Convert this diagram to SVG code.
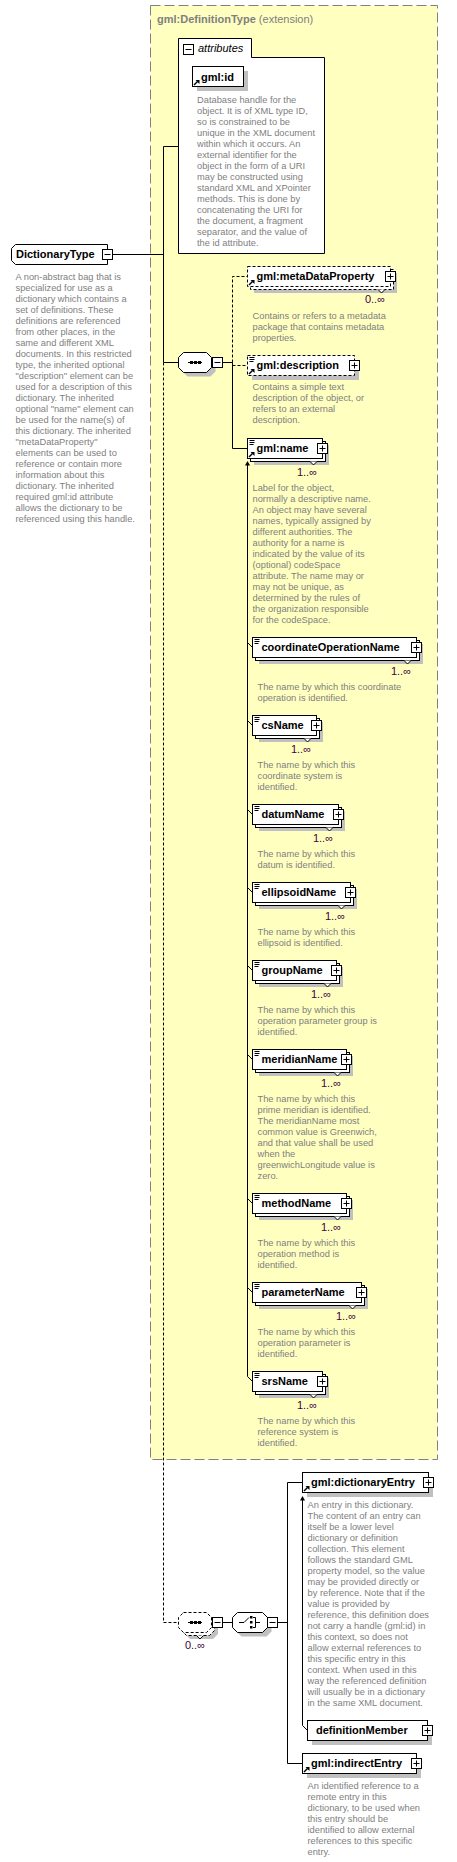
<svg xmlns="http://www.w3.org/2000/svg" width="457" height="1862" viewBox="0 0 457 1862" xml:space="preserve">
<style>
.box{fill:#fff;stroke:#000}
.dbox{fill:#fff;stroke:#000;stroke-dasharray:3,2}
.sh{fill:#c0c0c0}
.ln{stroke:#000;fill:none}
.dl{stroke:#000;fill:none;stroke-dasharray:3,2}
.lbl{font-family:'Liberation Sans',Arial,sans-serif;font-weight:bold;font-size:11px;fill:#000}
.doc{font-family:'Liberation Sans',Arial,sans-serif;font-size:9.3px;fill:#808080}
.mul{font-family:'Liberation Sans',Arial,sans-serif;font-size:11px;fill:#400040;text-anchor:end}
.ttl{font-family:'Liberation Sans',Arial,sans-serif;font-size:11px;fill:#808080}
</style>
<defs>
<g id="plus"><rect x="0.5" y="0.5" width="10" height="10" fill="#fff" stroke="#000"/><path d="M2.5,5.5H8.5M5.5,2.5V8.5" stroke="#000"/></g>
<g id="minus"><rect x="0.5" y="0.5" width="10" height="10" fill="#fff" stroke="#000"/><path d="M2.5,5.5H8.5" stroke="#000"/></g>
<g id="ref"><path d="M1,6.5L4.5,3" stroke="#000" stroke-width="1.4"/><path d="M2.5,1.5H6.5V5.5Z" fill="#000"/></g>
<g id="docic"><path d="M0,0.5H5M0,2.5H5M0,4.5H4" stroke="#000"/></g>
<path id="notch" d="M-3.5,0L0,3.5L3.5,0" fill="#fff" stroke="#000"/>
<path id="oct" d="M5,0H28L33,5V15L28,20H5L0,15V5Z"/>
<path id="oct2" d="M5,0H30L35,5V15L30,20H5L0,15V5Z"/>
</defs>

<g id="extension">
<rect x="150.5" y="5.5" width="287" height="1454" fill="#ffffc0" stroke="#808080" stroke-dasharray="10,4"/>
<text class="ttl" x="157" y="23"><tspan font-weight="bold">gml:DefinitionType</tspan> (extension)</text>
</g>

<g id="connectors">
<path class="ln" d="M112.5,254.5H163.5M163.5,146.5V362.5M163.5,146.5H178.5M163.5,362.5H178.5"/>
<path class="dl" d="M163.5,362.5V1622.5H178.5" stroke-dasharray="2,2"/>
<path class="ln" d="M222.5,362.5H232.5V448.5H247.5"/>
<path class="dl" d="M232.5,362.5V276.5H247.5M232.5,365.5H247.5"/>
<path class="ln" d="M247.5,465V1376.5L252.5,1381.5"/>
<path d="M245,465.5L247.5,461L250,465.5Z" fill="#000"/>
<path class="ln" d="M247.5,642.5L252.5,647.5M247.5,720.5L252.5,725.5M247.5,809.5L252.5,814.5M247.5,887.5L252.5,892.5M247.5,965.5L252.5,970.5M247.5,1054.5L252.5,1059.5M247.5,1198.5L252.5,1203.5M247.5,1287.5L252.5,1292.5"/>
<path class="ln" d="M222.5,1622.5H232.5M277.5,1622.5H287.5M287.5,1482.5V1763.5M287.5,1482.5H302.5M287.5,1763.5H302.5"/>
<path class="ln" d="M302.5,1500V1725.5L307.5,1730.5"/>
<path d="M300,1500.5L302.5,1496L305,1500.5Z" fill="#000"/>
</g>

<g id="DictionaryType">
<path class="box" d="M15.5,244.5H107.5V264.5H15.5L11.5,260.5V248.5Z"/>
<text class="lbl" x="16" y="258">DictionaryType</text>
<use href="#minus" x="102" y="249"/>
<text class="doc" x="15.5" y="279.5">A non-abstract bag that is</text>
<text class="doc" x="15.5" y="290.5">specialized for use as a</text>
<text class="doc" x="15.5" y="301.5">dictionary which contains a</text>
<text class="doc" x="15.5" y="312.5">set of definitions. These</text>
<text class="doc" x="15.5" y="323.5">definitions are referenced</text>
<text class="doc" x="15.5" y="334.5">from other places, in the</text>
<text class="doc" x="15.5" y="345.5">same and different XML</text>
<text class="doc" x="15.5" y="356.5">documents. In this restricted</text>
<text class="doc" x="15.5" y="367.5">type, the inherited optional</text>
<text class="doc" x="15.5" y="378.5">"description" element can be</text>
<text class="doc" x="15.5" y="389.5">used for a description of this</text>
<text class="doc" x="15.5" y="400.5">dictionary. The inherited</text>
<text class="doc" x="15.5" y="411.5">optional "name" element can</text>
<text class="doc" x="15.5" y="422.5">be used for the name(s) of</text>
<text class="doc" x="15.5" y="433.5">this dictionary. The inherited</text>
<text class="doc" x="15.5" y="444.5">"metaDataProperty"</text>
<text class="doc" x="15.5" y="455.5">elements can be used to</text>
<text class="doc" x="15.5" y="466.5">reference or contain more</text>
<text class="doc" x="15.5" y="477.5">information about this</text>
<text class="doc" x="15.5" y="488.5">dictionary. The inherited</text>
<text class="doc" x="15.5" y="499.5">required gml:id attribute</text>
<text class="doc" x="15.5" y="510.5">allows the dictionary to be</text>
<text class="doc" x="15.5" y="521.5">referenced using this handle.</text>
</g>

<g id="attributes">
<path class="box" d="M178.5,253.5V38.5H251.5V57.5H324.5V253.5Z"/>
<use href="#minus" x="183" y="44"/>
<text x="198" y="52" font-family="'Liberation Sans',Arial,sans-serif" font-size="11" font-style="italic">attributes</text>
</g>

<g id="gml_id">
<rect class="sh" x="197" y="71" width="51" height="20"/>
<rect class="box" x="192.5" y="66.5" width="51" height="20"/>
<use href="#ref" x="193" y="78.5"/>
<text class="lbl" x="201" y="80.5">gml:id</text>
<text class="doc" x="197" y="102.5">Database handle for the</text>
<text class="doc" x="197" y="113.5">object.  It is of XML type ID,</text>
<text class="doc" x="197" y="124.5">so is constrained to be</text>
<text class="doc" x="197" y="135.5">unique in the XML document</text>
<text class="doc" x="197" y="146.5">within which it occurs.  An</text>
<text class="doc" x="197" y="157.5">external identifier for the</text>
<text class="doc" x="197" y="168.5">object in the form of a URI</text>
<text class="doc" x="197" y="179.5">may be constructed using</text>
<text class="doc" x="197" y="190.5">standard XML and XPointer</text>
<text class="doc" x="197" y="201.5">methods.  This is done by</text>
<text class="doc" x="197" y="212.5">concatenating the URI for</text>
<text class="doc" x="197" y="223.5">the document, a fragment</text>
<text class="doc" x="197" y="234.5">separator, and the value of</text>
<text class="doc" x="197" y="245.5">the id attribute.</text>
</g>

<g id="sequence">
<use href="#oct" x="182.5" y="356.5" class="sh"/>
<use href="#oct" x="178.5" y="352.5" fill="#fff" stroke="#000"/>
<path class="ln" d="M188,362.5H202"/>
<rect x="190" y="361" width="3" height="3"/><rect x="194" y="361" width="3" height="3"/><rect x="198" y="361" width="3" height="3"/>
<use href="#minus" x="212" y="357"/>
</g>

<g id="gml_metaDataProperty">
<rect class="sh" x="254" y="273" width="143" height="20"/>
<rect class="dbox" x="250.5" y="269.5" width="143" height="20"/>
<rect class="dbox" x="247.5" y="266.5" width="143" height="20"/>
<use href="#notch" x="381.5" y="289.5"/>
<use href="#ref" x="248" y="278.5"/>
<text class="lbl" x="256.5" y="280">gml:metaDataProperty</text>
<use href="#plus" x="385" y="271"/>
<text class="mul" x="385" y="303">0..∞</text>
<text class="doc" x="252.5" y="318.5">Contains or refers to a metadata</text>
<text class="doc" x="252.5" y="329.5">package that contains metadata</text>
<text class="doc" x="252.5" y="340.5">properties.</text>
</g>

<g id="gml_description">
<rect class="sh" x="252" y="360" width="107" height="20"/>
<rect class="dbox" x="247.5" y="355.5" width="107" height="20"/>
<use href="#docic" x="249.5" y="357"/>
<use href="#ref" x="248" y="367.5"/>
<text class="lbl" x="256.5" y="369">gml:description</text>
<use href="#plus" x="349" y="360"/>
<text class="doc" x="252.5" y="390">Contains a simple text</text>
<text class="doc" x="252.5" y="401">description of the object, or</text>
<text class="doc" x="252.5" y="412">refers to an external</text>
<text class="doc" x="252.5" y="423">description.</text>
</g>

<g id="gml_name">
<rect class="sh" x="254" y="445" width="75" height="20"/>
<rect class="box" x="250.5" y="441.5" width="75" height="20"/>
<rect class="box" x="247.5" y="438.5" width="75" height="20"/>
<use href="#notch" x="313.5" y="461.5"/>
<use href="#docic" x="249.5" y="440"/>
<use href="#ref" x="248" y="450.5"/>
<text class="lbl" x="256.5" y="452">gml:name</text>
<use href="#plus" x="317" y="443"/>
<text class="mul" x="317" y="475.5">1..∞</text>
<text class="doc" x="252.5" y="491">Label for the object,</text>
<text class="doc" x="252.5" y="502">normally a descriptive name.</text>
<text class="doc" x="252.5" y="513">An object may have several</text>
<text class="doc" x="252.5" y="524">names, typically assigned by</text>
<text class="doc" x="252.5" y="535">different authorities.  The</text>
<text class="doc" x="252.5" y="546">authority for a name is</text>
<text class="doc" x="252.5" y="557">indicated by the value of its</text>
<text class="doc" x="252.5" y="568">(optional) codeSpace</text>
<text class="doc" x="252.5" y="579">attribute.  The name may or</text>
<text class="doc" x="252.5" y="590">may not be unique, as</text>
<text class="doc" x="252.5" y="601">determined by the rules of</text>
<text class="doc" x="252.5" y="612">the organization responsible</text>
<text class="doc" x="252.5" y="623">for the codeSpace.</text>
</g>

<g id="coordinateOperationName">
<rect class="sh" x="259" y="644" width="164" height="20"/>
<rect class="box" x="255.5" y="640.5" width="164" height="20"/>
<rect class="box" x="252.5" y="637.5" width="164" height="20"/>
<use href="#notch" x="407.5" y="660.5"/>
<use href="#docic" x="254.5" y="639"/>
<text class="lbl" x="261.5" y="651">coordinateOperationName</text>
<use href="#plus" x="411" y="642"/>
<text class="mul" x="411" y="674.5">1..∞</text>
<text class="doc" x="257.5" y="690">The name by which this coordinate</text>
<text class="doc" x="257.5" y="701">operation is identified.</text>
</g>

<g id="csName">
<rect class="sh" x="259" y="722" width="64" height="20"/>
<rect class="box" x="255.5" y="718.5" width="64" height="20"/>
<rect class="box" x="252.5" y="715.5" width="64" height="20"/>
<use href="#notch" x="307.5" y="738.5"/>
<use href="#docic" x="254.5" y="717"/>
<text class="lbl" x="261.5" y="729">csName</text>
<use href="#plus" x="311" y="720"/>
<text class="mul" x="311" y="752.5">1..∞</text>
<text class="doc" x="257.5" y="768">The name by which this</text>
<text class="doc" x="257.5" y="779">coordinate system is</text>
<text class="doc" x="257.5" y="790">identified.</text>
</g>

<g id="datumName">
<rect class="sh" x="259" y="811" width="86" height="20"/>
<rect class="box" x="255.5" y="807.5" width="86" height="20"/>
<rect class="box" x="252.5" y="804.5" width="86" height="20"/>
<use href="#notch" x="329.5" y="827.5"/>
<use href="#docic" x="254.5" y="806"/>
<text class="lbl" x="261.5" y="818">datumName</text>
<use href="#plus" x="333" y="809"/>
<text class="mul" x="333" y="841.5">1..∞</text>
<text class="doc" x="257.5" y="857">The name by which this</text>
<text class="doc" x="257.5" y="868">datum is identified.</text>
</g>

<g id="ellipsoidName">
<rect class="sh" x="259" y="889" width="98" height="20"/>
<rect class="box" x="255.5" y="885.5" width="98" height="20"/>
<rect class="box" x="252.5" y="882.5" width="98" height="20"/>
<use href="#notch" x="341.5" y="905.5"/>
<use href="#docic" x="254.5" y="884"/>
<text class="lbl" x="261.5" y="896">ellipsoidName</text>
<use href="#plus" x="345" y="887"/>
<text class="mul" x="345" y="919.5">1..∞</text>
<text class="doc" x="257.5" y="935">The name by which this</text>
<text class="doc" x="257.5" y="946">ellipsoid is identified.</text>
</g>

<g id="groupName">
<rect class="sh" x="259" y="967" width="84" height="20"/>
<rect class="box" x="255.5" y="963.5" width="84" height="20"/>
<rect class="box" x="252.5" y="960.5" width="84" height="20"/>
<use href="#notch" x="327.5" y="983.5"/>
<use href="#docic" x="254.5" y="962"/>
<text class="lbl" x="261.5" y="974">groupName</text>
<use href="#plus" x="331" y="965"/>
<text class="mul" x="331" y="997.5">1..∞</text>
<text class="doc" x="257.5" y="1013">The name by which this</text>
<text class="doc" x="257.5" y="1024">operation parameter group is</text>
<text class="doc" x="257.5" y="1035">identified.</text>
</g>

<g id="meridianName">
<rect class="sh" x="259" y="1056" width="94" height="20"/>
<rect class="box" x="255.5" y="1052.5" width="94" height="20"/>
<rect class="box" x="252.5" y="1049.5" width="94" height="20"/>
<use href="#notch" x="337.5" y="1072.5"/>
<use href="#docic" x="254.5" y="1051"/>
<text class="lbl" x="261.5" y="1063">meridianName</text>
<use href="#plus" x="341" y="1054"/>
<text class="mul" x="341" y="1086.5">1..∞</text>
<text class="doc" x="257.5" y="1102">The name by which this</text>
<text class="doc" x="257.5" y="1113">prime meridian is identified.</text>
<text class="doc" x="257.5" y="1124">The meridianName most</text>
<text class="doc" x="257.5" y="1135">common value is Greenwich,</text>
<text class="doc" x="257.5" y="1146">and that value shall be used</text>
<text class="doc" x="257.5" y="1157">when the</text>
<text class="doc" x="257.5" y="1168">greenwichLongitude value is</text>
<text class="doc" x="257.5" y="1179">zero.</text>
</g>

<g id="methodName">
<rect class="sh" x="259" y="1200" width="94" height="20"/>
<rect class="box" x="255.5" y="1196.5" width="94" height="20"/>
<rect class="box" x="252.5" y="1193.5" width="94" height="20"/>
<use href="#notch" x="337.5" y="1216.5"/>
<use href="#docic" x="254.5" y="1195"/>
<text class="lbl" x="261.5" y="1207">methodName</text>
<use href="#plus" x="341" y="1198"/>
<text class="mul" x="341" y="1230.5">1..∞</text>
<text class="doc" x="257.5" y="1246">The name by which this</text>
<text class="doc" x="257.5" y="1257">operation method is</text>
<text class="doc" x="257.5" y="1268">identified.</text>
</g>

<g id="parameterName">
<rect class="sh" x="259" y="1289" width="109" height="20"/>
<rect class="box" x="255.5" y="1285.5" width="109" height="20"/>
<rect class="box" x="252.5" y="1282.5" width="109" height="20"/>
<use href="#notch" x="352.5" y="1305.5"/>
<use href="#docic" x="254.5" y="1284"/>
<text class="lbl" x="261.5" y="1296">parameterName</text>
<use href="#plus" x="356" y="1287"/>
<text class="mul" x="356" y="1319.5">1..∞</text>
<text class="doc" x="257.5" y="1335">The name by which this</text>
<text class="doc" x="257.5" y="1346">operation parameter is</text>
<text class="doc" x="257.5" y="1357">identified.</text>
</g>

<g id="srsName">
<rect class="sh" x="259" y="1378" width="70" height="20"/>
<rect class="box" x="255.5" y="1374.5" width="70" height="20"/>
<rect class="box" x="252.5" y="1371.5" width="70" height="20"/>
<use href="#notch" x="313.5" y="1394.5"/>
<use href="#docic" x="254.5" y="1373"/>
<text class="lbl" x="261.5" y="1385">srsName</text>
<use href="#plus" x="317" y="1376"/>
<text class="mul" x="317" y="1408.5">1..∞</text>
<text class="doc" x="257.5" y="1424">The name by which this</text>
<text class="doc" x="257.5" y="1435">reference system is</text>
<text class="doc" x="257.5" y="1446">identified.</text>
</g>

<g id="sequence2">
<use href="#oct" x="185" y="1619" class="sh"/>
<use href="#oct" x="181.5" y="1615.5" fill="#fff" stroke="#000" stroke-dasharray="3,2"/>
<use href="#oct" x="178.5" y="1612.5" fill="#fff" stroke="#000" stroke-dasharray="3,2"/>
<use href="#notch" x="200" y="1635.5"/>
<path class="ln" d="M188,1622.5H202"/>
<rect x="190" y="1621" width="3" height="3"/><rect x="194" y="1621" width="3" height="3"/><rect x="198" y="1621" width="3" height="3"/>
<use href="#minus" x="212" y="1617"/>
<text class="mul" x="205" y="1649">0..∞</text>
</g>

<g id="choice">
<use href="#oct2" x="236.5" y="1616.5" class="sh"/>
<use href="#oct2" x="232.5" y="1612.5" fill="#fff" stroke="#000"/>
<path class="ln" d="M239,1622.5H244L249,1617.5M255.5,1617.5V1627.5M253,1617.5H255.5M253,1627.5H255.5M255.5,1622.5H260"/>
<rect x="250" y="1616" width="2.5" height="2.5"/><rect x="250" y="1621" width="2.5" height="2.5"/><rect x="250" y="1626" width="2.5" height="2.5"/>
<use href="#minus" x="267" y="1617"/>
</g>

<g id="gml_dictionaryEntry">
<rect class="sh" x="307" y="1477" width="126" height="20"/>
<rect class="box" x="302.5" y="1472.5" width="126" height="20"/>
<use href="#ref" x="303" y="1484.5"/>
<text class="lbl" x="311" y="1486">gml:dictionaryEntry</text>
<use href="#plus" x="423" y="1477"/>
<text class="doc" x="307.5" y="1508">An entry in this dictionary.</text>
<text class="doc" x="307.5" y="1519">The content of an entry can</text>
<text class="doc" x="307.5" y="1530">itself be a lower level</text>
<text class="doc" x="307.5" y="1541">dictionary or definition</text>
<text class="doc" x="307.5" y="1552">collection. This element</text>
<text class="doc" x="307.5" y="1563">follows the standard GML</text>
<text class="doc" x="307.5" y="1574">property model, so the value</text>
<text class="doc" x="307.5" y="1585">may be provided directly or</text>
<text class="doc" x="307.5" y="1596">by reference. Note that if the</text>
<text class="doc" x="307.5" y="1607">value is provided by</text>
<text class="doc" x="307.5" y="1618">reference, this definition does</text>
<text class="doc" x="307.5" y="1629">not carry a handle (gml:id) in</text>
<text class="doc" x="307.5" y="1640">this context, so does not</text>
<text class="doc" x="307.5" y="1651">allow external references to</text>
<text class="doc" x="307.5" y="1662">this specific entry in this</text>
<text class="doc" x="307.5" y="1673">context. When used in this</text>
<text class="doc" x="307.5" y="1684">way the referenced definition</text>
<text class="doc" x="307.5" y="1695">will usually be in a dictionary</text>
<text class="doc" x="307.5" y="1706">in the same XML document.</text>
</g>

<g id="definitionMember">
<rect class="sh" x="312" y="1725" width="120" height="20"/>
<rect class="box" x="307.5" y="1720.5" width="120" height="20"/>
<text class="lbl" x="316" y="1734">definitionMember</text>
<use href="#plus" x="422" y="1725"/>
</g>

<g id="gml_indirectEntry">
<rect class="sh" x="307" y="1758" width="114" height="20"/>
<rect class="box" x="302.5" y="1753.5" width="114" height="20"/>
<use href="#ref" x="303" y="1765.5"/>
<text class="lbl" x="311" y="1767">gml:indirectEntry</text>
<use href="#plus" x="411" y="1758"/>
<text class="doc" x="307.5" y="1788.5">An identified reference to a</text>
<text class="doc" x="307.5" y="1799.5">remote entry in this</text>
<text class="doc" x="307.5" y="1810.5">dictionary, to be used when</text>
<text class="doc" x="307.5" y="1821.5">this entry should be</text>
<text class="doc" x="307.5" y="1832.5">identified to allow external</text>
<text class="doc" x="307.5" y="1843.5">references to this specific</text>
<text class="doc" x="307.5" y="1854.5">entry.</text>
</g>
</svg>
